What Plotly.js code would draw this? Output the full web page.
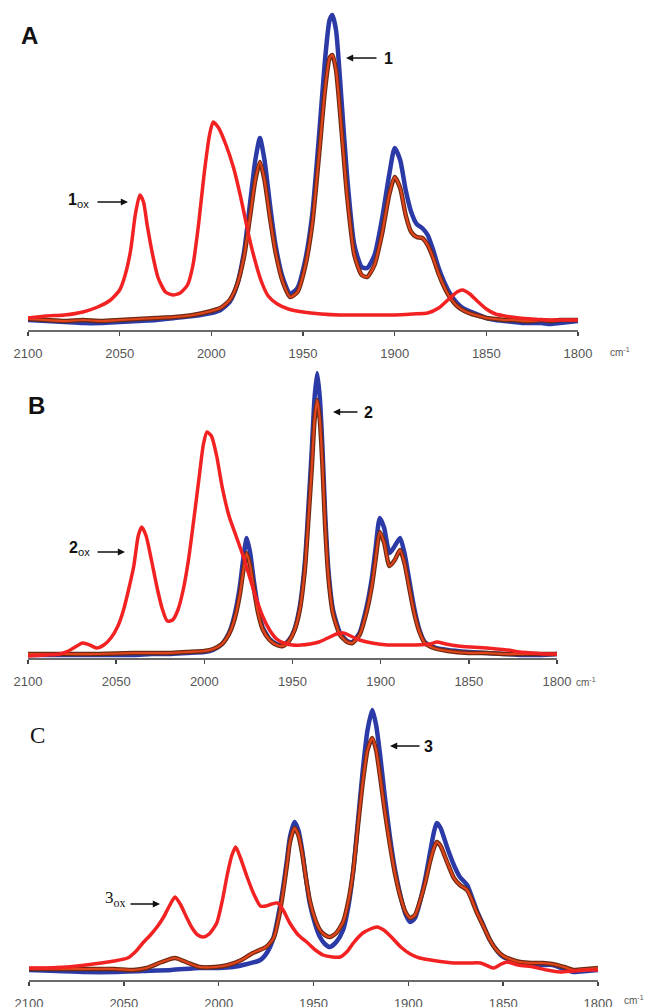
<!DOCTYPE html>
<html><head><meta charset="utf-8">
<script src="https://cdn.plot.ly/plotly-3.0.1.min.js"></script>
<style>html,body{margin:0;padding:0;background:#fff}#chart{width:653px;height:1007px}</style>
</head><body><div id="chart"></div>
<script>
// Tick labels
const tickValues = [2100, 2050, 2000, 1950, 1900, 1850, 1800];
const tickLabels = ["2100", "2050", "2000", "1950", "1900", "1850", "1800"];
const unitLabel = "cm<sup>-1</sup>";

// Panel A
const aBlueX = [2100,2090,2080,2070,2060,2050,2040,2030,2020,2010,2000,1995,1990,1986,1982,1979,1976,1973.5,1971,1968,1965,1961,1957,1953,1949,1945,1941,1938,1935.5,1934,1932,1929,1926,1922,1918,1915,1911,1907,1903,1900,1897,1894,1891,1888,1885,1882,1879,1876,1873,1870,1866,1862,1858,1854,1850,1845,1840,1835,1830,1825,1820,1815,1810,1805,1800];
const aBlueY = [.10,.09,.08,.07,.07,.08,.09,.10,.12,.14,.17,.20,.28,.45,.80,1.25,1.70,1.92,1.70,1.25,.85,.52,.36,.42,.68,1.15,2.0,2.7,3.1,3.15,3.0,2.3,1.55,.85,.63,.62,.75,1.1,1.55,1.82,1.70,1.40,1.18,1.06,1.02,.95,.80,.62,.48,.37,.27,.21,.18,.15,.12,.10,.09,.08,.07,.07,.07,.06,.07,.08,.09];
const aBrownX = aBlueX;
const aBrownY = [.11,.10,.09,.10,.09,.10,.11,.12,.13,.15,.19,.22,.30,.45,.75,1.12,1.50,1.68,1.50,1.12,.78,.48,.33,.38,.62,1.05,1.80,2.40,2.72,2.75,2.60,2.0,1.35,.75,.55,.53,.65,.95,1.35,1.53,1.42,1.15,.98,.93,.92,.85,.72,.56,.43,.33,.24,.19,.16,.14,.12,.11,.10,.10,.09,.09,.10,.09,.10,.10,.10];
const aRedX = [2100,2090,2080,2070,2062,2055,2050,2047,2044,2041.5,2039,2037,2035,2032,2029,2025,2021,2017,2013,2010,2007,2004,2001,1999,1996,1992,1988,1984,1980,1977,1973,1969,1964,1958,1950,1940,1930,1920,1910,1900,1890,1882,1876,1871,1866,1863,1859,1855,1850,1845,1840,1832,1825,1815,1800];
const aRedY = [.12,.14,.15,.18,.23,.30,.40,.55,.80,1.15,1.35,1.28,1.05,.75,.52,.38,.35,.37,.45,.65,1.05,1.55,1.95,2.08,2.02,1.85,1.63,1.33,.98,.75,.50,.34,.26,.21,.18,.16,.15,.15,.15,.15,.16,.17,.22,.30,.38,.40,.36,.29,.21,.16,.14,.12,.11,.10,.10];

// Panel B
const bBlueX = [2100,2080,2060,2040,2030,2020,2010,2000,1995,1990,1986,1983,1980,1978,1976,1974,1972,1969.5,1967,1963,1959,1955.5,1952,1949,1946,1943,1941,1939,1937.5,1936,1934.5,1933,1931.5,1929.5,1927,1923,1919,1916,1912,1908,1905,1903,1900.5,1898,1895,1892,1889,1886.5,1884,1881,1878,1875,1870,1862,1850,1840,1830,1820,1810,1800];
const bBlueY = [.03,.03,.03,.03,.04,.04,.05,.06,.08,.14,.25,.42,.70,.98,1.20,1.05,.78,.50,.31,.19,.14,.13,.18,.28,.50,.95,1.50,2.10,2.60,2.85,2.60,2.10,1.45,.85,.48,.25,.17,.16,.25,.51,.80,1.08,1.40,1.30,1.05,1.12,1.20,1.05,.80,.50,.28,.16,.11,.08,.06,.05,.04,.03,.03,.04];
const bBrownX = bBlueX;
const bBrownY = [.04,.04,.04,.05,.05,.05,.06,.07,.09,.14,.24,.38,.62,.86,1.05,.92,.70,.45,.29,.18,.13,.12,.17,.27,.47,.88,1.38,1.92,2.38,2.58,2.38,1.92,1.32,.78,.44,.23,.16,.15,.23,.46,.72,.97,1.26,1.15,.92,.98,1.08,.95,.72,.45,.26,.15,.10,.07,.05,.05,.04,.04,.04,.04];
const bRedX = [2100,2090,2082,2076,2069,2065,2061,2057,2053,2049,2046,2043,2040,2037.5,2035.5,2033,2030,2027,2024,2021,2018,2015,2012,2009,2006,2003,2000.5,1998.5,1996,1993,1990,1986,1982,1978,1975,1971,1967,1963,1959,1955,1950,1945,1940,1935,1930,1925,1921,1917,1912,1905,1896,1888,1880,1872,1868,1863,1856,1849,1840,1834,1828,1821,1814,1807,1800];
const bRedY = [.02,.03,.04,.08,.15,.13,.10,.13,.20,.32,.47,.68,.92,1.22,1.31,1.22,.98,.72,.50,.37,.38,.48,.68,.98,1.38,1.80,2.14,2.26,2.22,2.02,1.72,1.42,1.22,1.02,.85,.62,.42,.28,.19,.15,.13,.13,.14,.16,.20,.24,.25,.22,.18,.15,.13,.13,.13,.14,.16,.14,.12,.11,.10,.09,.08,.06,.05,.04,.04];

// Panel C
const cBlueX = [2100,2085,2070,2055,2040,2025,2010,2000,1992.5,1985,1978,1974,1971,1968,1966,1964,1962.4,1960,1958,1956,1954,1952,1949,1946.6,1944,1941.3,1938,1934.4,1931.5,1929,1926.5,1924,1921.5,1919,1917,1915,1912.5,1909.7,1907,1904,1901.5,1899,1896.5,1894,1891,1888.6,1886.5,1885,1883,1879.6,1876,1872.8,1869,1866.5,1864,1860.5,1857,1853.5,1850,1845,1841,1835,1829,1824,1818,1813,1806,1800];
const cBlueY = [.10,.09,.08,.08,.09,.10,.12,.12,.13,.16,.20,.29,.43,.70,.93,1.20,1.43,1.58,1.50,1.30,1.02,.77,.55,.43,.36,.33,.38,.50,.75,1.10,1.60,2.10,2.50,2.70,2.55,2.27,1.85,1.43,1.10,.83,.66,.58,.62,.77,1.02,1.27,1.48,1.57,1.52,1.33,1.15,1.03,.95,.83,.70,.55,.40,.30,.23,.19,.17,.15,.15,.15,.11,.08,.09,.10];
const cBrownX = [2100,2085,2070,2055,2045,2038,2030,2023,2016,2010,2002,1995,1988,1982,1975,1971,1968,1966,1964,1962.4,1960,1958,1956,1954,1952,1949,1946.6,1944,1941.3,1938,1934.4,1931.5,1929,1926.5,1924,1921.5,1919,1917,1915,1912.5,1909.7,1907,1904,1901.5,1899,1896.5,1894,1891,1888.6,1886.5,1885,1883,1879.6,1876,1872.8,1869,1866.5,1864,1860.5,1857,1853.5,1850,1845,1841,1835,1829,1824,1818,1813,1806,1800];
const cBrownY = [.11,.11,.11,.11,.10,.12,.18,.22,.17,.13,.13,.15,.20,.27,.33,.42,.65,.88,1.15,1.38,1.52,1.45,1.27,1.02,.80,.60,.50,.45,.43,.47,.58,.80,1.10,1.55,1.98,2.30,2.42,2.30,2.05,1.70,1.35,1.06,.82,.68,.62,.65,.78,.98,1.18,1.32,1.38,1.34,1.18,1.02,.95,.90,.80,.68,.54,.40,.30,.24,.20,.18,.17,.17,.16,.13,.10,.11,.12];
const cRedX = [2100,2090,2080,2070,2062,2055,2048,2044,2040,2036,2032.5,2029,2026,2023,2020,2017,2014,2011,2008,2005,2001,1998,1995.5,1993,1991,1988.5,1985,1981.5,1978,1975,1972,1969,1966,1962.5,1958,1953,1949,1945,1940,1936,1932,1929,1924,1920,1916.5,1913,1909,1904,1899,1894,1885,1876,1868,1862,1858,1855,1851,1848,1842,1834,1827,1820,1813,1806,1800];
const cRedY = [.12,.12,.13,.15,.17,.19,.22,.28,.37,.45,.53,.63,.74,.83,.75,.63,.52,.45,.43,.46,.57,.80,1.05,1.25,1.33,1.22,1.03,.86,.74,.74,.76,.77,.70,.57,.45,.37,.30,.25,.23,.23,.29,.37,.47,.51,.53,.50,.43,.33,.26,.22,.19,.17,.17,.17,.14,.12,.16,.18,.15,.13,.10,.08,.09,.10,.10];

const BLUE = '#2b3aa6', BROWN = '#6e2a12', ORANGE = '#e2441c', RED = '#f22222';

function panel(bx, by, brx, bry, rx, ry, xa, ya) {
  const base = {type: 'scatter', mode: 'lines', xaxis: xa, yaxis: ya, hoverinfo: 'skip'};
  const ln = (w, c) => ({shape: 'spline', smoothing: 0.6, width: w, color: c});
  return [
    Object.assign({x: bx, y: by, line: ln(4.5, BLUE)}, base),
    Object.assign({x: brx, y: bry, line: ln(4.5, BROWN)}, base),
    Object.assign({x: brx, y: bry, line: ln(2.2, ORANGE)}, base),
    Object.assign({x: rx, y: ry, line: ln(3.5, RED)}, base)
  ];
}

const data = [].concat(
  panel(aBlueX, aBlueY, aBrownX, aBrownY, aRedX, aRedY, 'x', 'y'),
  panel(bBlueX, bBlueY, bBrownX, bBrownY, bRedX, bRedY, 'x2', 'y2'),
  panel(cBlueX, cBlueY, cBrownX, cBrownY, cRedX, cRedY, 'x3', 'y3')
);

const W = 653, H = 1007;
const px = v => v / W, py = v => 1 - v / H;

function xax(l, r, anchor) {
  return {
    domain: [px(l), px(r)], range: [2100, 1800], anchor: anchor,
    showline: true, linecolor: '#6a6a6a', linewidth: 1.5,
    ticks: 'outside', ticklen: 4, tickwidth: 1.5, tickcolor: '#444',
    tickvals: tickValues, ticktext: tickLabels,
    tickfont: {family: 'Liberation Sans, Arial, sans-serif', size: 13, color: '#555'},
    ticklabelstandoff: 7,
    showgrid: false, zeroline: false, fixedrange: true
  };
}
function yax(bot, top, maxv, anchor) {
  return {domain: [py(bot), py(top)], range: [0, maxv], visible: false, anchor: anchor,
          showgrid: false, zeroline: false, fixedrange: true};
}

const ann = [];
function txt(x, y, t, size, opts) {
  ann.push(Object.assign({xref: 'paper', yref: 'paper', x: px(x), y: py(y), text: t, showarrow: false,
    font: {family: 'Liberation Sans, Arial, sans-serif', size: size, color: '#111'}, xanchor: 'center', yanchor: 'middle'}, opts || {}));
}
function arrow(hx, tx, y) {
  ann.push({xref: 'paper', yref: 'paper', x: px(hx), y: py(y), ax: tx - hx, ay: 0, text: '',
    showarrow: true, arrowhead: 2, arrowsize: 0.9, arrowwidth: 1.6, arrowcolor: '#111', standoff: 0, startstandoff: 0});
}

// Panel letters
txt(29, 36, '<b>A</b>', 24);
txt(36, 405, '<b>B</b>', 24);
txt(37, 735, 'C', 23, {font: {family: 'Liberation Serif, Times New Roman, serif', size: 23, color: '#111'}});

// Panel A labels
txt(388, 58, '<b>1</b>', 16);
arrow(346, 378, 58);
txt(91, 201, '<b>1</b><sub>ox</sub>', 16, {xanchor: 'right'});
arrow(128, 96, 202);

// Panel B labels
txt(368, 412, '<b>2</b>', 16);
arrow(333, 359, 412);
txt(92, 548, '<b>2</b><sub>ox</sub>', 16, {xanchor: 'right'});
arrow(125, 96, 552);

// Panel C labels
txt(429, 746, '<b>3</b>', 16);
arrow(390, 421, 746);
txt(127, 899, '3<sub>ox</sub>', 17, {xanchor: 'right', font: {family: 'Liberation Serif, Times New Roman, serif', size: 17, color: '#111'}});
arrow(160, 129, 904);

// unit labels
txt(608, 352, unitLabel, 10, {xanchor: 'left', font: {family: 'Liberation Sans, Arial, sans-serif', size: 10, color: '#555'}});
txt(574, 682, unitLabel, 10, {xanchor: 'left', font: {family: 'Liberation Sans, Arial, sans-serif', size: 10, color: '#555'}});
txt(622, 1000, unitLabel, 10, {xanchor: 'left', font: {family: 'Liberation Sans, Arial, sans-serif', size: 10, color: '#555'}});

const layout = {
  width: W, height: H, margin: {l: 0, r: 0, t: 0, b: 0},
  paper_bgcolor: '#fff', plot_bgcolor: 'rgba(0,0,0,0)', showlegend: false,
  xaxis: xax(28, 578, 'y'), yaxis: yax(330, 10, 3.2, 'x'),
  xaxis2: xax(28, 557, 'y2'), yaxis2: yax(658, 365, 2.93, 'x2'),
  xaxis3: xax(29, 598, 'y3'), yaxis3: yax(980, 700, 2.8, 'x3'),
  annotations: ann
};

Plotly.newPlot('chart', data, layout, {staticPlot: true, displayModeBar: false});
</script>
</body></html>
